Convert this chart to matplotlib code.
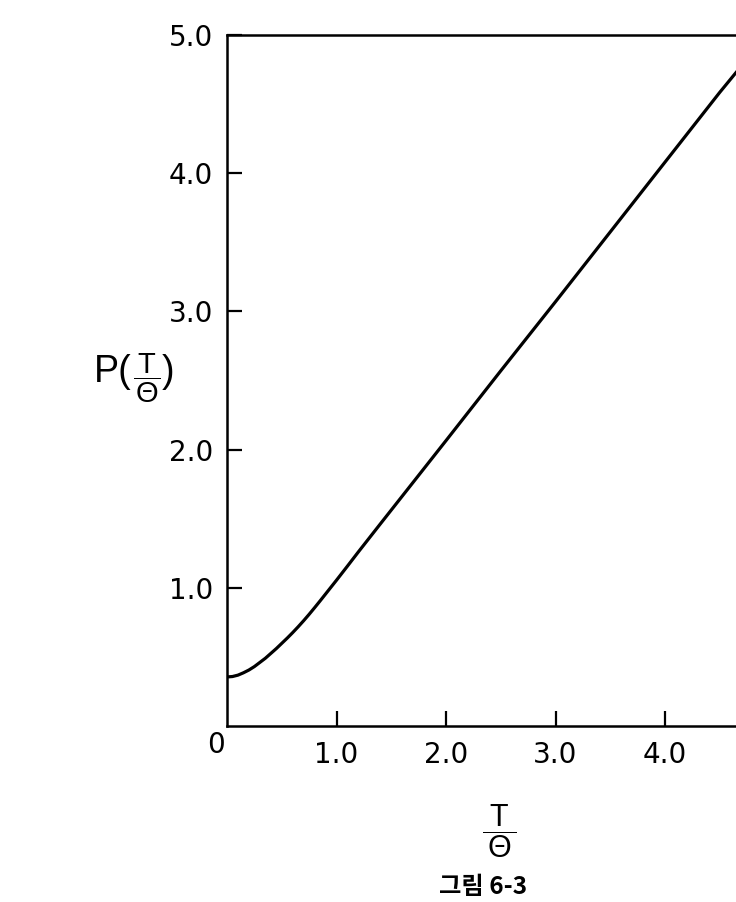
import matplotlib
matplotlib.use("Agg")
import matplotlib.pyplot as plt

# values
t_ratio = [0.0, 0.05, 0.1, 0.15, 0.2, 0.25, 0.3, 0.35, 0.4, 0.45, 0.5, 0.55, 0.6, 0.65,
           0.7, 0.75, 0.8, 0.85, 0.9, 1.0, 1.1, 1.2, 1.4, 2.0, 2.5, 3.0, 3.5, 4.0, 4.5, 4.93]
p_val = [0.355, 0.358, 0.368, 0.385, 0.405, 0.43, 0.46, 0.49, 0.525, 0.56, 0.598, 0.636, 0.676, 0.718,
         0.762, 0.808, 0.856, 0.905, 0.955, 1.055, 1.157, 1.26, 1.462, 2.065, 2.57, 3.07, 3.575, 4.08, 4.585, 5.0]

xticks = [1.0, 2.0, 3.0, 4.0]
yticks = [1.0, 2.0, 3.0, 4.0, 5.0]

plt.rcParams['font.family'] = ['DejaVu Sans']
plt.rcParams['mathtext.fontset'] = 'custom'
plt.rcParams['mathtext.rm'] = 'Liberation Sans'
plt.rcParams['mathtext.it'] = 'Liberation Sans'

fig = plt.figure(figsize=(7.36, 9.02), dpi=100)
# axes runs past the right edge of the page, as in the scan
ax = fig.add_axes([227 / 736, 176 / 902, 547.5 / 736, 691 / 902])

ax.plot(t_ratio, p_val, color='black', lw=2.3, solid_capstyle='round')

ax.set_xlim(0, 5)
ax.set_ylim(0, 5)
ax.set_xticks(xticks)
ax.set_xticklabels(['%.1f' % v for v in xticks])
ax.set_yticks(yticks)
ax.set_yticklabels(['%.1f' % v for v in yticks])
ax.tick_params(direction='in', length=11, width=1.6, labelsize=20, pad=10)
ax.tick_params(axis='x', pad=11)
ax.tick_params(top=False, right=False)
for s in ax.spines.values():
    s.set_linewidth(1.8)

ax.annotate('0', xy=(0, 0), xycoords='data', xytext=(-8, -14), textcoords='offset points',
            ha='center', va='center', fontsize=20)

# y label: P( T/Θ )
ax.text(-0.1750, 0.513, 'P(', transform=ax.transAxes, ha='right', va='center',
        fontsize=27, family='Liberation Sans')
ax.text(-0.1461, 0.503, r'$\dfrac{\,\mathrm{T}\,}{\Theta}$', transform=ax.transAxes,
        ha='center', va='center', fontsize=21)
ax.text(-0.1185, 0.513, ')', transform=ax.transAxes, ha='left', va='center',
        fontsize=27, family='Liberation Sans')

ax.text(0.497, -0.152, r'$\dfrac{\;\mathrm{T}\;}{\Theta}$', transform=ax.transAxes,
        ha='center', va='center', fontsize=22)
ax.text(0.468, -0.233, '그림 6-3', transform=ax.transAxes, ha='center', va='center',
        fontsize=17.5, fontweight='bold', family=['Noto Sans CJK KR', 'DejaVu Sans'])

fig.savefig('out.png', dpi=100)
